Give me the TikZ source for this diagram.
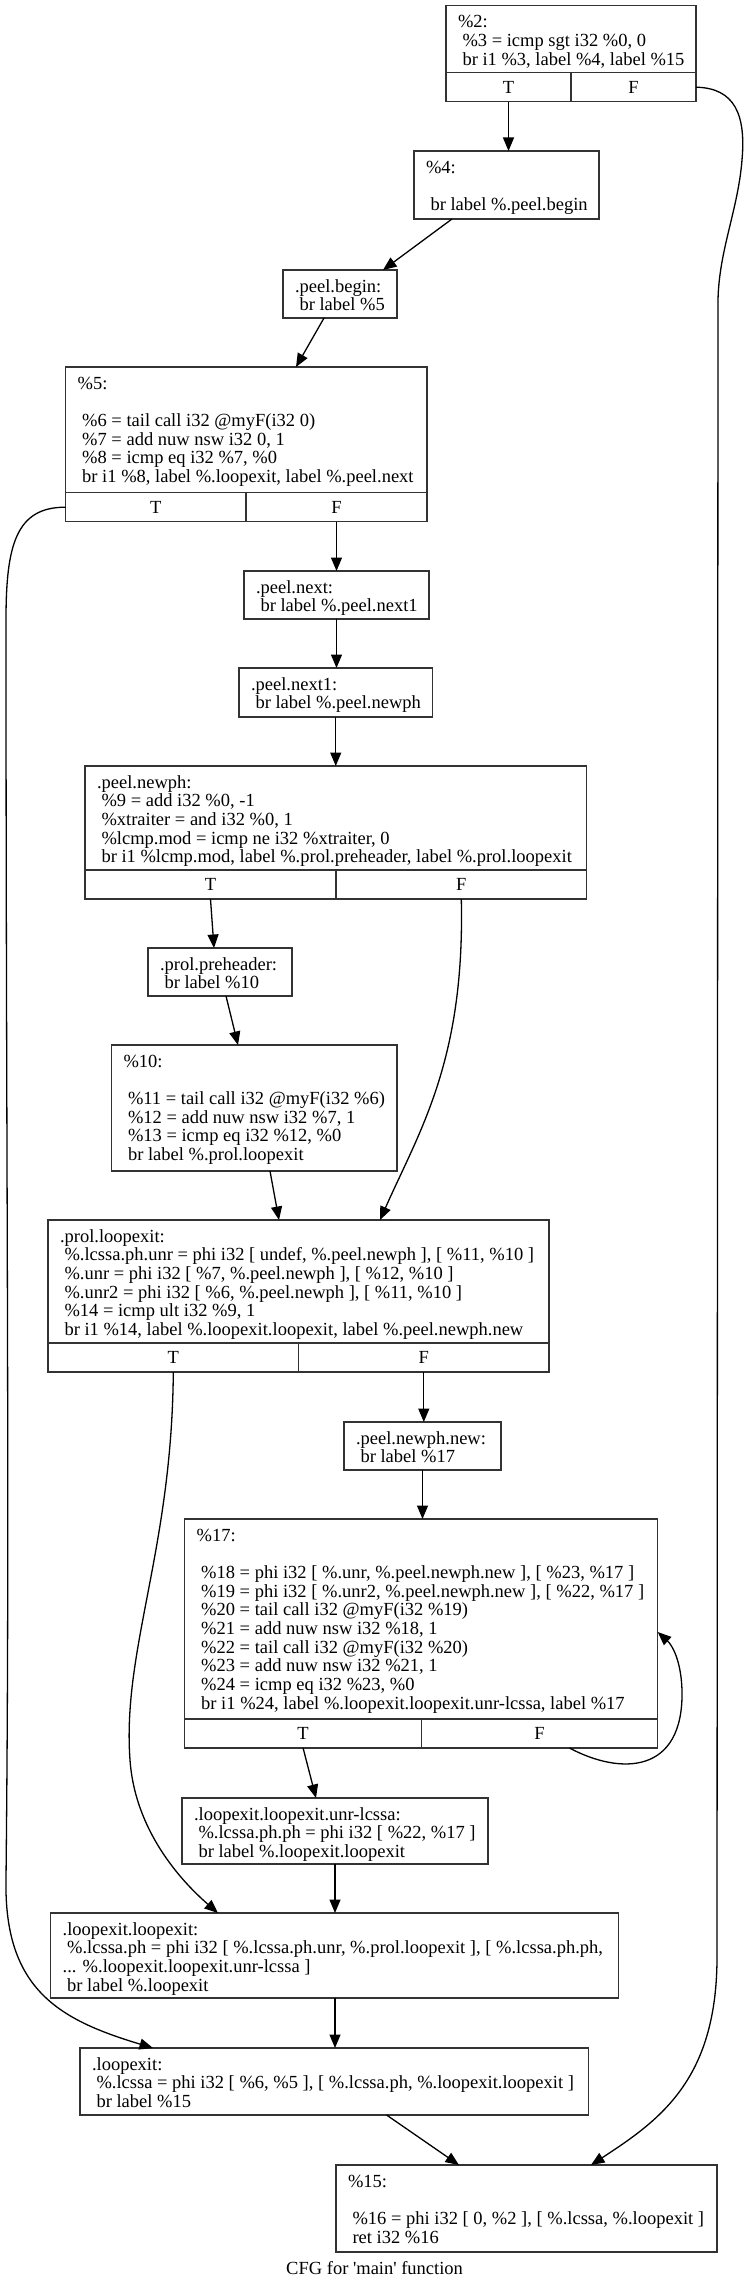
\documentclass[tikz,border=0pt]{standalone}
\usepackage{fontspec}
\setmainfont{Liberation Serif}
\usetikzlibrary{arrows.meta,calc}
\newcommand\gvfont{\fontsize{18.5}{18.7}\selectfont}
\newcommand\firststrut{\rule{0pt}{15pt}}
\newcommand\lsp{\hspace*{4.5pt}}
\tikzset{
  blk/.style={draw=black!80, line width=1.5pt, anchor=north west, inner sep=0pt, outer sep=0pt},
  cell/.style={blk, font=\gvfont, minimum height=29},
  txt/.style={anchor=north west, inner sep=0pt, outer sep=0pt, align=left, font=\gvfont},
  edge/.style={draw=black, line width=1.3pt, -{Triangle[length=13.5pt,width=11pt]}}
}
\begin{document}
\begin{tikzpicture}[x=1pt,y=-1pt]
\useasboundingbox (0,0) rectangle (749,2288);

% %2
\node[blk, minimum width=250, minimum height=67] (b2) at (446,5.7) {};
\node[cell, minimum width=125] (b2T) at (446,72.7) {T};
\node[cell, minimum width=125] (b2F) at (571,72.7) {F};
\node[txt] (t2) at (458,12.7) {\firststrut\%2:\\\lsp\%3 = icmp sgt i32 \%0, 0\\\lsp br i1 \%3, label \%4, label \%15};

% %4
\node[blk, minimum width=185, minimum height=68] (b4) at (414,151) {};
\node[txt] (t4) at (426,158) {\firststrut\%4:\\\mbox{}\\\lsp br label \%.peel.begin};

% .peel.begin
\node[blk, minimum width=114, minimum height=48] (bpb) at (283,270) {};
\node[txt] (tpb) at (295,277) {\firststrut.peel.begin:\\\lsp br label \%5};

% %5
\node[blk, minimum width=361.3, minimum height=125.7] (b5) at (65.7,367) {};
\node[cell, minimum width=180.3] (b5T) at (65.7,492.7) {T};
\node[cell, minimum width=181] (b5F) at (246,492.7) {F};
\node[txt] (t5) at (77.7,374) {\firststrut\%5:\\\mbox{}\\\lsp\%6 = tail call i32 @myF(i32 0)\\\lsp\%7 = add nuw nsw i32 0, 1\\\lsp\%8 = icmp eq i32 \%7, \%0\\\lsp br i1 \%8, label \%.loopexit, label \%.peel.next};

% .peel.next
\node[blk, minimum width=185, minimum height=48] (bpn) at (244,571) {};
\node[txt] (tpn) at (256,578) {\firststrut.peel.next:\\\lsp br label \%.peel.next1};

% .peel.next1
\node[blk, minimum width=193.5, minimum height=49] (bpn1) at (239,668) {};
\node[txt] (tpn1) at (251,675) {\firststrut.peel.next1:\\\lsp br label \%.peel.newph};

% .peel.newph
\node[blk, minimum width=501.6, minimum height=104] (bnp) at (85,766) {};
\node[cell, minimum width=251] (bnpT) at (85,870) {T};
\node[cell, minimum width=250.6] (bnpF) at (336,870) {F};
\node[txt] (tnp) at (97,773) {\firststrut.peel.newph:\\\lsp\%9 = add i32 \%0, -1\\\lsp\%xtraiter = and i32 \%0, 1\\\lsp\%lcmp.mod = icmp ne i32 \%xtraiter, 0\\\lsp br i1 \%lcmp.mod, label \%.prol.preheader, label \%.prol.loopexit};

% .prol.preheader
\node[blk, minimum width=144, minimum height=48] (bpre) at (148,948) {};
\node[txt] (tpre) at (160,955) {\firststrut.prol.preheader:\\\lsp br label \%10};

% %10
\node[blk, minimum width=285.5, minimum height=126] (b10) at (111.5,1045) {};
\node[txt] (t10) at (123.5,1052) {\firststrut\%10:\\\mbox{}\\\lsp\%11 = tail call i32 @myF(i32 \%6)\\\lsp\%12 = add nuw nsw i32 \%7, 1\\\lsp\%13 = icmp eq i32 \%12, \%0\\\lsp br label \%.prol.loopexit};

% .prol.loopexit
\node[blk, minimum width=501, minimum height=123] (bpl) at (48,1220) {};
\node[cell, minimum width=250.6] (bplT) at (48,1343) {T};
\node[cell, minimum width=250.4] (bplF) at (298.6,1343) {F};
\node[txt] (tpl) at (60,1227) {\firststrut.prol.loopexit:\\\lsp\%.lcssa.ph.unr = phi i32 [ undef, \%.peel.newph ], [ \%11, \%10 ]\\\lsp\%.unr = phi i32 [ \%7, \%.peel.newph ], [ \%12, \%10 ]\\\lsp\%.unr2 = phi i32 [ \%6, \%.peel.newph ], [ \%11, \%10 ]\\\lsp\%14 = icmp ult i32 \%9, 1\\\lsp br i1 \%14, label \%.loopexit.loopexit, label \%.peel.newph.new};

% .peel.newph.new
\node[blk, minimum width=157, minimum height=48] (bnn) at (344,1422) {};
\node[txt] (tnn) at (356,1429) {\firststrut.peel.newph.new:\\\lsp br label \%17};

% %17
\node[blk, minimum width=473, minimum height=200] (b17) at (184.7,1519) {};
\node[cell, minimum width=236.8] (b17T) at (184.7,1719) {T};
\node[cell, minimum width=236.2] (b17F) at (421.5,1719) {F};
\node[txt] (t17) at (196.7,1526) {\firststrut\%17:\\\mbox{}\\\lsp\%18 = phi i32 [ \%.unr, \%.peel.newph.new ], [ \%23, \%17 ]\\\lsp\%19 = phi i32 [ \%.unr2, \%.peel.newph.new ], [ \%22, \%17 ]\\\lsp\%20 = tail call i32 @myF(i32 \%19)\\\lsp\%21 = add nuw nsw i32 \%18, 1\\\lsp\%22 = tail call i32 @myF(i32 \%20)\\\lsp\%23 = add nuw nsw i32 \%21, 1\\\lsp\%24 = icmp eq i32 \%23, \%0\\\lsp br i1 \%24, label \%.loopexit.loopexit.unr-lcssa, label \%17};

% .loopexit.loopexit.unr-lcssa
\node[blk, minimum width=306, minimum height=66] (bul) at (182,1798) {};
\node[txt] (tul) at (194,1805) {\firststrut.loopexit.loopexit.unr-lcssa:\\\lsp\%.lcssa.ph.ph = phi i32 [ \%22, \%17 ]\\\lsp br label \%.loopexit.loopexit};

% .loopexit.loopexit
\node[blk, minimum width=568, minimum height=85] (bll) at (50.7,1913) {};
\node[txt] (tll) at (62.7,1920) {\firststrut.loopexit.loopexit:\\\lsp\%.lcssa.ph = phi i32 [ \%.lcssa.ph.unr, \%.prol.loopexit ], [ \%.lcssa.ph.ph,\\... \%.loopexit.loopexit.unr-lcssa ]\\\lsp br label \%.loopexit};

% .loopexit
\node[blk, minimum width=508.5, minimum height=67] (ble) at (80,2048) {};
\node[txt] (tle) at (92,2055) {\firststrut.loopexit:\\\lsp\%.lcssa = phi i32 [ \%6, \%5 ], [ \%.lcssa.ph, \%.loopexit.loopexit ]\\\lsp br label \%15};

% %15
\node[blk, minimum width=381, minimum height=87] (b15) at (336,2165) {};
\node[txt] (t15) at (348,2172) {\firststrut\%15:\\\mbox{}\\\lsp\%16 = phi i32 [ 0, \%2 ], [ \%.lcssa, \%.loopexit ]\\\lsp ret i32 \%16};

% caption
\node[font=\gvfont, inner sep=0pt] (cap) at (374.6,2268) {CFG for \textquotesingle main\textquotesingle{} function};

% edges
\draw[edge] (b2T.south) -- (b2T.south |- b4.north);
\draw[edge] (b2F.east) .. controls (735,88) and (746,115) .. (742,160)
  .. controls (738,210) and (719,250) .. (718,300) -- (717,1960)
  .. controls (716,2080) and (660,2120) .. ($(b15.north west)+(255,0)$);
\draw[edge] ($(b4.south west)+(38,0)$) -- ($(bpb.north west)+(100,0)$);
\draw[edge] ($(bpb.south west)+(41,0)$) -- ($(b5.north west)+(230.3,0)$);
\draw[edge] (b5T.west) .. controls (16,507) and (6,545) .. (6,620)
  .. controls (6,1200) and (10,1500) .. (6,1880)
  .. controls (4,1990) and (60,2020) .. ($(ble.north west)+(73,0)$);
\draw[edge] (b5F.south) -- (b5F.south |- bpn.north);
\draw[edge] (bpn.south) -- (bpn.south |- bpn1.north);
\draw[edge] (bpn1.south) -- (bpn1.south |- bnp.north);
\draw[edge] (bnpT.south) -- ($(bpre.north west)+(66,0)$);
\draw[edge] (bnpF.south) .. controls (465,1060) and (420,1130) .. ($(bpl.north west)+(332,0)$);
\draw[edge] ($(bpre.south west)+(78,0)$) -- ($(b10.north west)+(126.5,0)$);
\draw[edge] ($(b10.south west)+(158.5,0)$) -- ($(bpl.north west)+(231,0)$);
\draw[edge] (bplT.south) .. controls (172,1550) and (122,1650) .. (130,1760)
  .. controls (135,1830) and (180,1880) .. ($(bll.north west)+(167.3,0)$);
\draw[edge] (bplF.south) -- (bplF.south |- bnn.north);
\draw[edge] (bnn.south) -- (bnn.south |- b17.north);
\draw[edge] ($(b17F.south west)+(148,0)$) .. controls (620,1775) and (684,1775) .. (682,1690)
  .. controls (681,1660) and (672,1645) .. ($(b17.north east)+(0,113)$);
\draw[edge] (b17T.south) -- ($(bul.north west)+(134,0)$);
\draw[edge] ($(bul.south west)+(153,0)$) -- ($(bll.north west)+(284.3,0)$);
\draw[edge] ($(bll.south west)+(284.3,0)$) -- ($(ble.north west)+(255,0)$);
\draw[edge] ($(ble.south west)+(306.6,0)$) -- ($(b15.north west)+(123,0)$);
\end{tikzpicture}
\end{document}
